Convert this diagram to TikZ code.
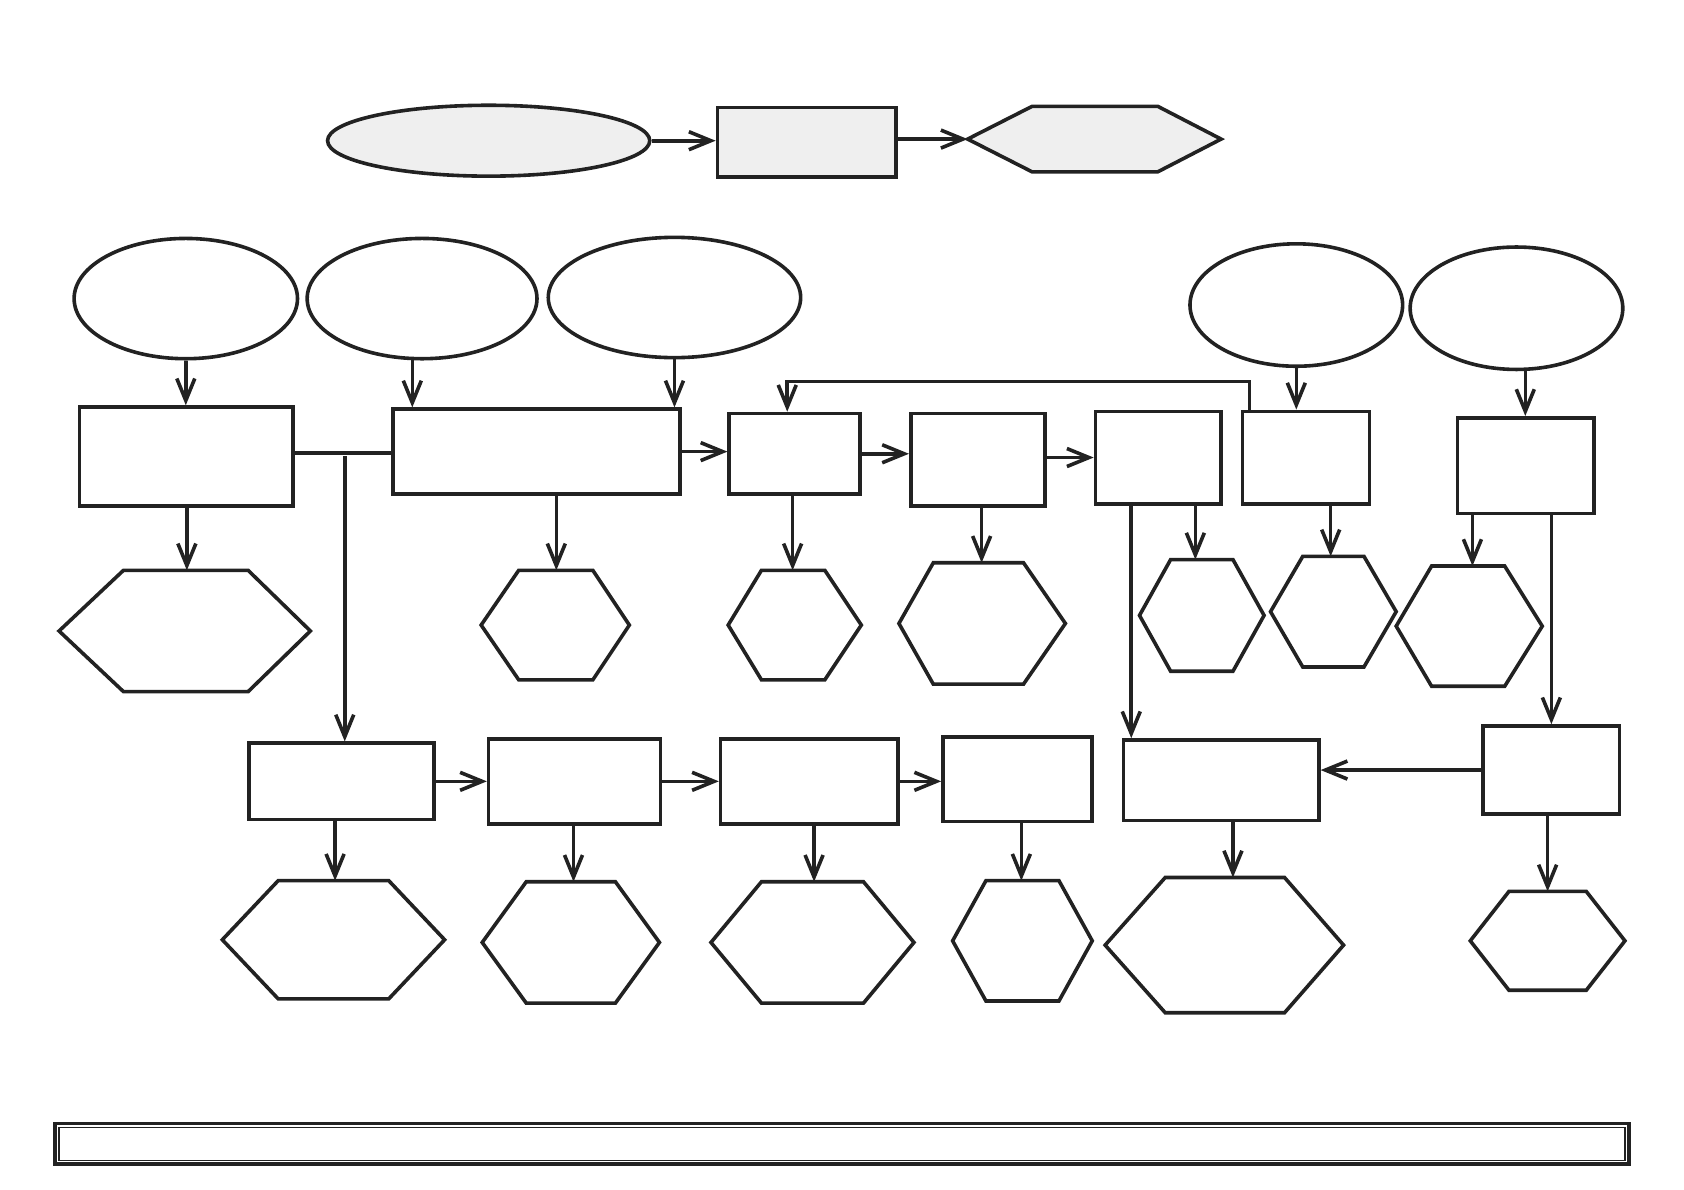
\documentclass[tikz,border=0pt]{standalone}
\usetikzlibrary{arrows.meta,shapes.geometric}
\definecolor{lg}{HTML}{EFEFEF}
\definecolor{ink}{HTML}{222222}
\tikzset{
 shp/.style={draw=ink, line width=1.8pt, line join=miter},
 box/.style={shp, rectangle, inner sep=0pt},
 ell/.style={shp, ellipse, inner sep=0pt},
 arr/.style={draw=ink, line width=1.8pt, -{Straight Barb[length=11pt,width=9pt]}},
 ln/.style={draw=ink, line width=1.8pt},
}
\newcommand\rb[6][]{\node[box,#1,minimum width={(#5-#3)*0.537pt},minimum height={(#6-#4)*0.537pt}] (#2) at ({(#3+#5)/2},{(#4+#6)/2}) {};}
\newcommand\el[6][]{\node[ell,#1,minimum width={2*#5*0.537pt},minimum height={2*#6*0.537pt}] (#2) at (#3,#4) {};}
\newcommand\hexag[9]{%
 \draw[shp,#1] (#3,{(#7+#8)/2}) -- (#4,#7) -- (#5,#7) -- (#6,{(#7+#8)/2}) -- (#5,#8) -- (#4,#8) -- cycle;
 \coordinate (#2) at (#9,#7);
 \coordinate (#2w) at (#3,{(#7+#8)/2});}
\begin{document}
\begin{tikzpicture}[x=0.537pt,y=-0.537pt]
\path[use as bounding box] (0,0) rectangle (1568,1108);
% top row
\el[fill=lg]{e0}{455}{131}{150}{33}
\rb[fill=lg]{t0}{668}{100}{834}{165}
\hexag{fill=lg}{hx0}{901}{961}{1078}{1137}{99}{160}{1019}
\draw[arr] (e0.east) -- (e0.east -| t0.west);
\draw[arr] (hx0w -| t0.east) -- (hx0w);
% ellipses
\el{e1}{173}{278}{104}{56}
\el{e2}{393}{278}{107}{56}
\el{e3}{628}{277}{117.5}{56}
\el{e4}{1207}{284}{99}{57}
\el{e5}{1412}{287}{99}{57}
% boxes
\rb{r1}{74}{379}{273}{471}
\rb{r2}{366}{381}{633}{460}
\rb{r3}{679}{385}{801}{460}
\rb{r4}{848}{385}{973}{471}
\rb{r5}{1020}{383}{1137}{469}
\rb{r6}{1157}{383}{1275}{469}
\rb{r7}{1357}{389}{1484}{478}
\rb{r8}{232}{692}{404}{763}
\rb{r9}{455}{688}{615}{767}
\rb{r10}{671}{688}{836}{767}
\rb{r11}{878}{686}{1017}{765}
\rb{r12}{1046}{689}{1228}{764}
\rb{r13}{1381}{676}{1508}{758}
% hexagons
\hexag{}{h1}{55}{115}{231}{289}{531}{644}{174}
\hexag{}{h2}{448}{483}{552}{586}{531}{633}{518}
\hexag{}{h3}{678}{709}{768}{802}{531}{633}{738}
\hexag{}{h4}{837}{869}{953}{992}{524}{637}{914}
\hexag{}{h5}{1061}{1090}{1148}{1177}{521}{625}{1113}
\hexag{}{h6}{1183}{1213}{1270}{1300}{518}{621}{1239}
\hexag{}{h7}{1300}{1333}{1401}{1436}{527}{639}{1371}
\hexag{}{h8}{207}{259}{362}{414}{820}{930}{312}
\hexag{}{h9}{449}{490}{573}{614}{821}{934}{534}
\hexag{}{h10}{662}{709}{804}{851}{821}{934}{758}
\hexag{}{h11}{887}{918}{986}{1017}{820}{932}{951}
\hexag{}{h12}{1029}{1085}{1196}{1251}{817}{943}{1148}
\hexag{}{h13}{1369}{1405}{1477}{1513}{830}{922}{1441}
% connectors
\draw[arr] (e1.south) -- (e1.south |- r1.north);
\draw[arr] (e2.261) -- (e2.261 |- r2.north);
\draw[arr] (e3.south) -- (e3.south |- r2.north);
\draw[arr] (e4.south) -- (e4.south |- r6.north);
\draw[arr] (e5.278) -- (e5.278 |- r7.north);
\coordinate (j0) at (321,422);
\draw[ln] (j0 -| r1.east) -- (j0 -| r2.west);
\coordinate (j1) at (321,425);
\draw[arr] (j1) -- (j1 |- r8.north);
\draw[arr] (r2.east) -- (r2.east -| r3.west);
\draw[arr] (r3.east) -- (r3.east -| r4.west);
\draw[arr] (r5.west -| r4.east) -- (r5.west);
\draw[arr] ([xshift=4.3pt]r6.north west) -- ++(0,-26) -| ([xshift=-3.76pt]r3.north);
\foreach \r/\h in {r1/h1,r2/h2,r3/h3,r4/h4,r5/h5,r6/h6,r7/h7,r8/h8,r9/h9,r10/h10,r11/h11,r12/h12,r13/h13}
  \draw[arr] (\r.south -| \h) -- (\h);
\coordinate (j2) at ([xshift=4.83pt]r12.north west);
\draw[arr] (j2 |- r5.south) -- (j2);
\draw[arr] (r13.north |- r7.south) -- (r13.north);
\draw[arr] (r8.east) -- (r8.east -| r9.west);
\draw[arr] (r9.east) -- (r9.east -| r10.west);
\draw[arr] (r10.east) -- (r10.east -| r11.west);
\draw[arr] (r13.west) -- (r13.west -| r12.east);
% bottom band
\rb[line width=1.9pt]{band}{51}{1046}{1517}{1084}
\rb[line width=0.6pt]{bandin}{55}{1049.5}{1513}{1080.5}
\end{tikzpicture}
\end{document}
